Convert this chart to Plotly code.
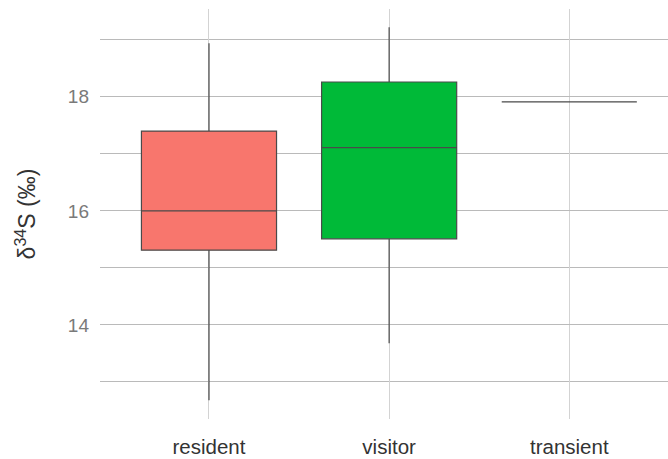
import plotly.graph_objects as go

# Group summaries for delta-34S (per mil)
groups = ["resident", "visitor", "transient"]
lower_whisker = [12.68, 13.68, 17.91]
q1 = [15.31, 15.51, 17.91]
median = [16.00, 17.11, 17.91]
q3 = [17.40, 18.26, 17.91]
upper_whisker = [18.94, 19.22, 17.91]
fill_colors = ["#F8766D", "#00BA38", "#619CFF"]

fig = go.Figure()
for i, g in enumerate(groups):
    fig.add_trace(go.Box(
        x=[g],
        q1=[q1[i]], median=[median[i]], q3=[q3[i]],
        lowerfence=[lower_whisker[i]], upperfence=[upper_whisker[i]],
        fillcolor=fill_colors[i],
        line=dict(color="#4a4a4a", width=1.2),
        whiskerwidth=0,
        width=0.75,
        boxpoints=False,
        showlegend=False,
        hoverinfo="skip",
    ))

fig.update_layout(
    width=668, height=459,
    margin=dict(l=100, r=0, t=9, b=40),
    plot_bgcolor="white", paper_bgcolor="white",
    font=dict(family="Liberation Sans, Arial, sans-serif"),
    boxmode="overlay",
)
fig.update_xaxes(
    type="category",
    categoryorder="array", categoryarray=groups,
    range=[-0.605, 2.548],
    showgrid=True, gridcolor="#d3d3d3", gridwidth=1.3,
    zeroline=False, showline=False, ticks="",
    tickfont=dict(size=20.5, color="#333333"),
    ticklabelstandoff=13,
)
fig.update_yaxes(
    range=[12.35, 19.54],
    tickvals=[14, 16, 18], ticktext=["14", "16", "18"],
    showgrid=True, gridcolor="#bababa", gridwidth=1.3,
    minor=dict(tickvals=[13, 15, 17, 19], showgrid=True, gridcolor="#bababa", gridwidth=1.3),
    zeroline=False, showline=False, ticks="",
    tickfont=dict(size=19, color="#7a7a7a"),
    ticklabelstandoff=10,
    title=dict(text="δ<sup>34</sup>S (‰)", font=dict(size=23, color="#333333"), standoff=25),
)

fig.write_html("out.html")
